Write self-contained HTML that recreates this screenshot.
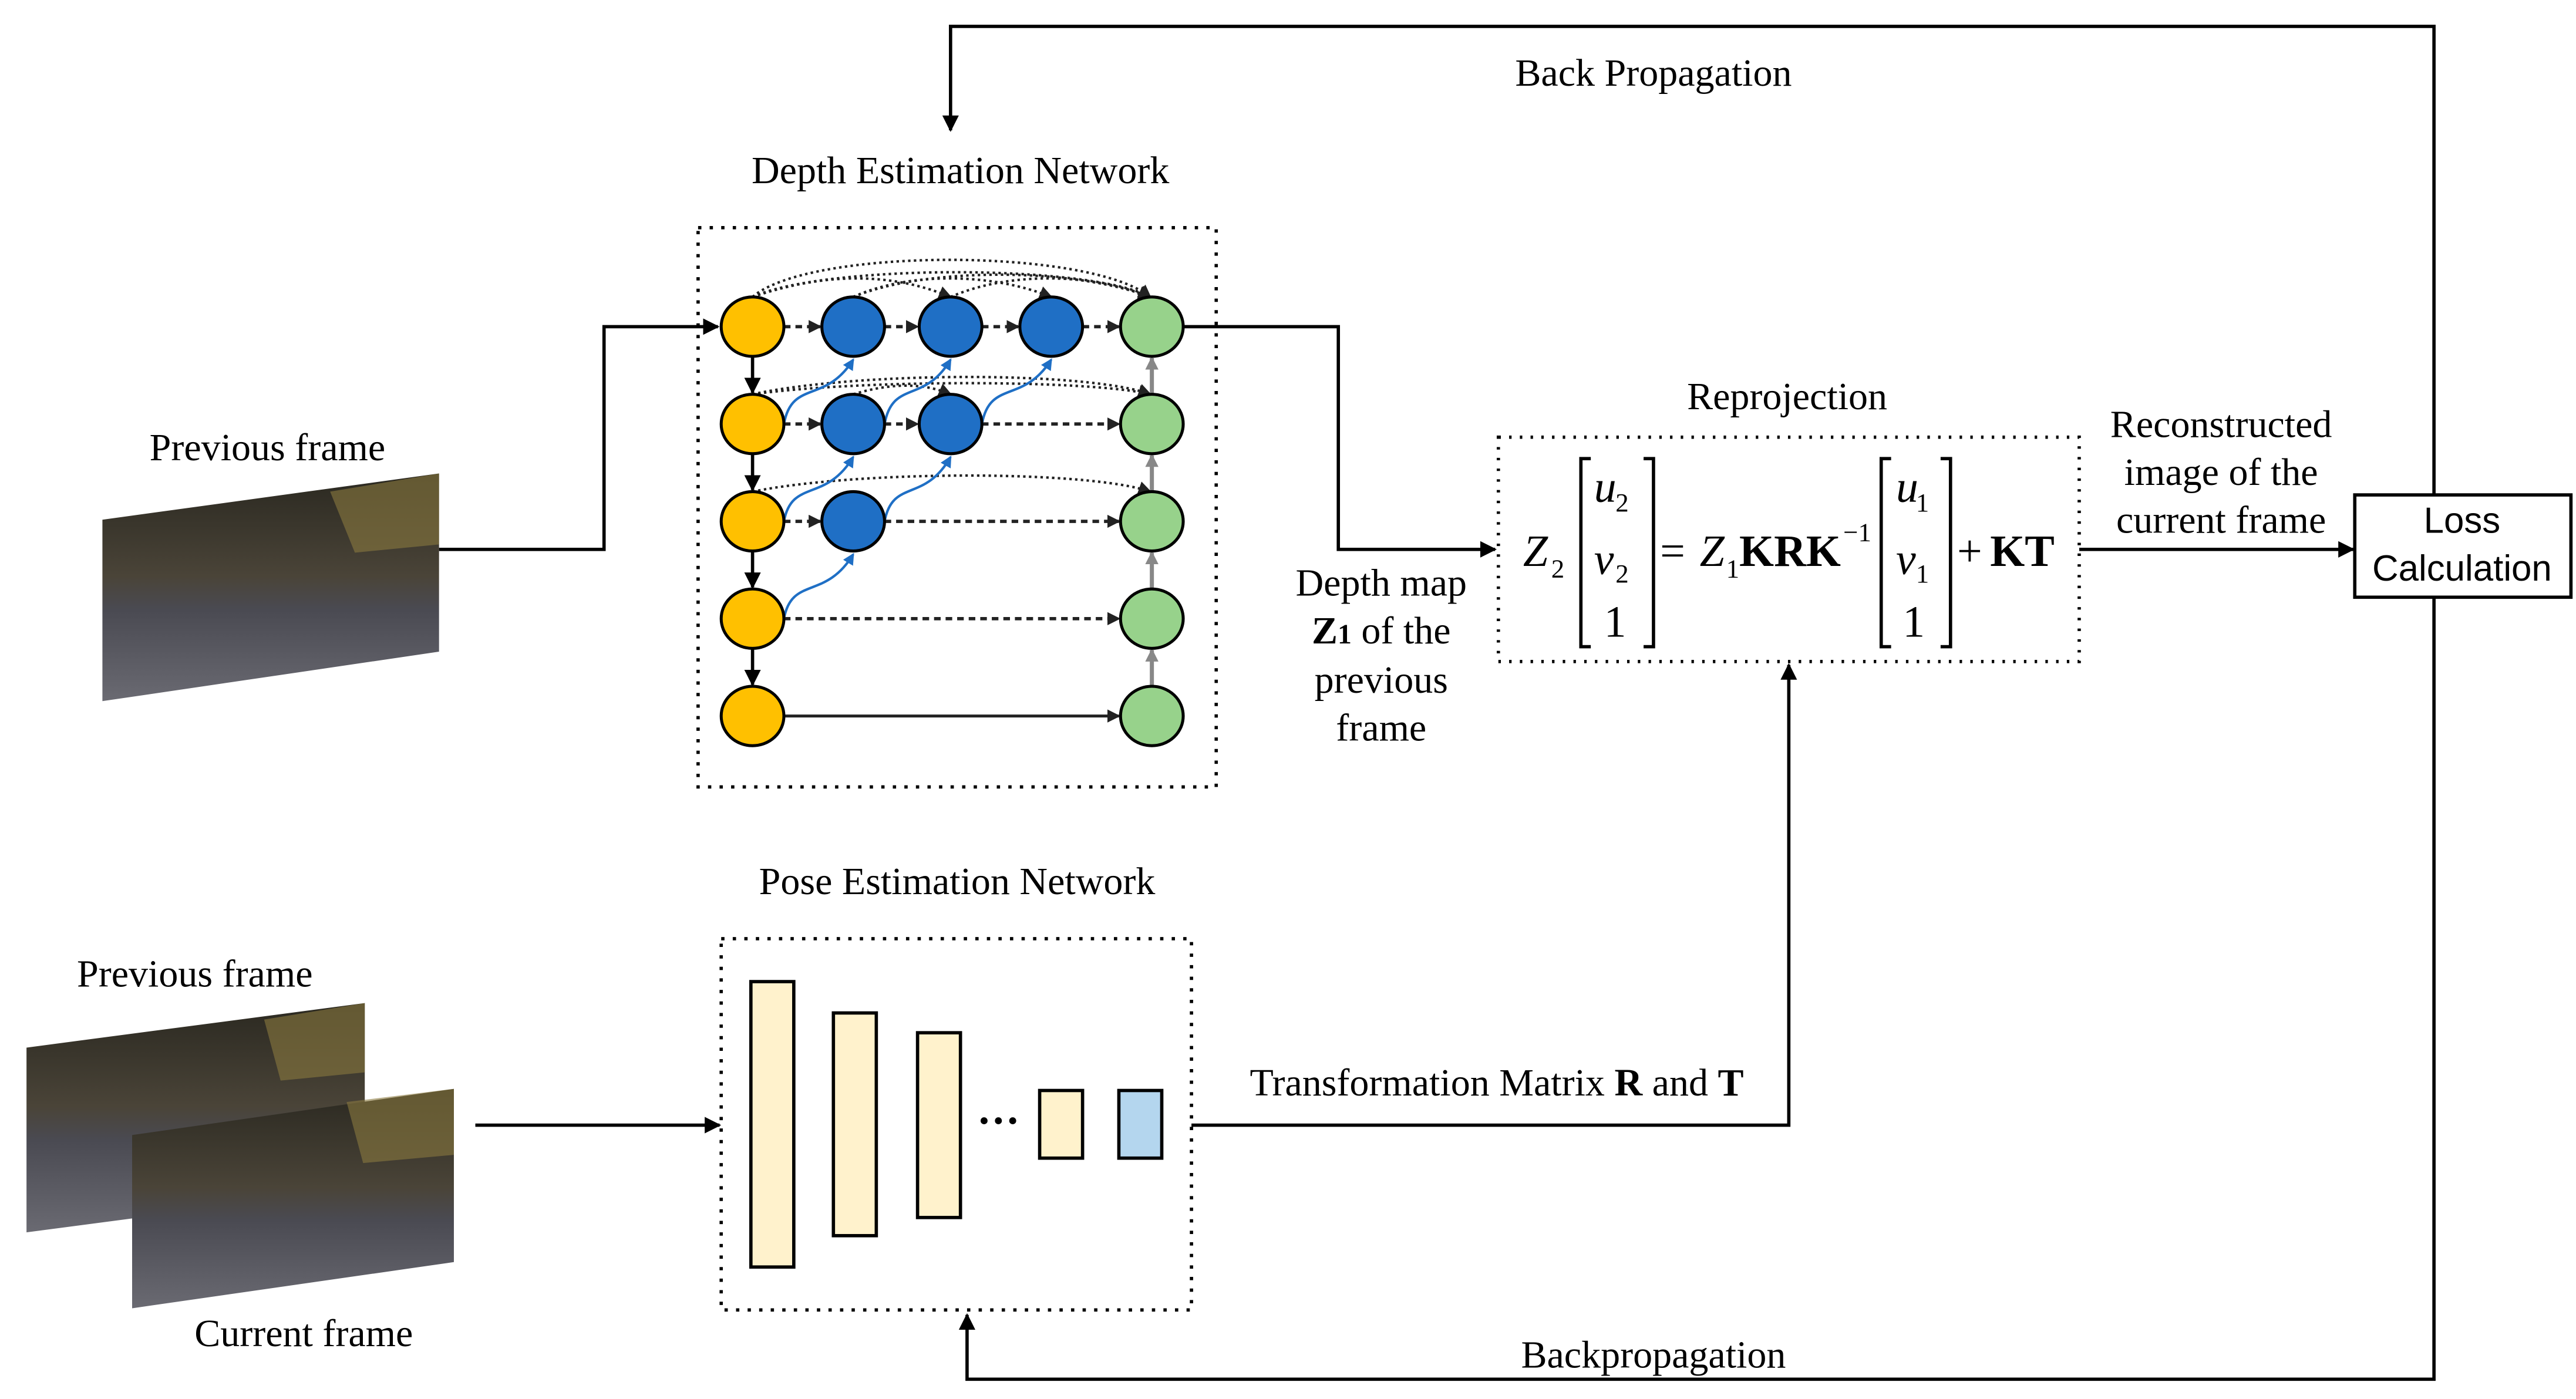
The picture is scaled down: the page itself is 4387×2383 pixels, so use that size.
<!DOCTYPE html>
<html><head><meta charset="utf-8"><style>
html,body{margin:0;padding:0;background:#fff}
svg{display:block}
text{font-family:"Liberation Serif",serif;fill:#000}
</style></head><body>
<svg width="4387" height="2383" viewBox="0 0 1561 848" xmlns="http://www.w3.org/2000/svg">
<defs>
<marker id="ab" markerWidth="10" markerHeight="10" refX="9" refY="5" orient="auto" markerUnits="userSpaceOnUse"><path d="M0,0 L10,5 L0,10 z" fill="#000"/></marker>
<marker id="as" markerWidth="8" markerHeight="8" refX="7" refY="4" orient="auto" markerUnits="userSpaceOnUse"><path d="M0,0 L8,4 L0,8 z" fill="#222"/></marker>
<marker id="ag" markerWidth="8" markerHeight="8" refX="7" refY="4" orient="auto" markerUnits="userSpaceOnUse"><path d="M0,0 L8,4 L0,8 z" fill="#888"/></marker>
<marker id="abl" markerWidth="7" markerHeight="7" refX="6" refY="3.5" orient="auto" markerUnits="userSpaceOnUse"><path d="M0,0 L7,3.5 L0,7 z" fill="#1f6fc5"/></marker>
<linearGradient id="img" x1="0" y1="0" x2="0" y2="1">
<stop offset="0" stop-color="#2a2820"/><stop offset="0.45" stop-color="#4a4438"/><stop offset="0.6" stop-color="#4a4a52"/><stop offset="1" stop-color="#6a6a72"/></linearGradient>
</defs>

<polygon points="62,315 266,287 266,395 62,425" fill="url(#img)"/>
<polygon points="200,298 266,287 266,330 215,335" fill="#8a7a40" opacity="0.6"/>
<polygon points="16,635 221,608 221,720 16,747" fill="url(#img)"/>
<polygon points="160,618 221,608 221,650 170,655" fill="#8a7a40" opacity="0.6"/>
<polygon points="80,688 275,660 275,765 80,793" fill="url(#img)"/>
<polygon points="210,668 275,660 275,700 220,705" fill="#8a7a40" opacity="0.6"/>

<text x="162" y="279" font-size="23.5" text-anchor="middle">Previous frame</text>
<text x="118" y="598" font-size="23.5" text-anchor="middle">Previous frame</text>
<text x="184" y="816" font-size="23.5" text-anchor="middle">Current frame</text>

<text x="582" y="111" font-size="23.5" text-anchor="middle">Depth Estimation Network</text>
<rect x="423" y="138" width="314" height="339" fill="none" stroke="#000" stroke-width="2" stroke-dasharray="2,5"/>

<g fill="none" stroke="#222" stroke-width="1.5" stroke-dasharray="1.5,2" marker-end="url(#as)">
<path d="M456,180 C490,150 660,150 697,180"/>
<path d="M456,180 C500,160 660,160 697,180"/>
<path d="M456,180 C500,165 540,165 576,180"/>
<path d="M517,180 C550,165 600,165 637,180"/>
<path d="M517,180 C560,162 650,162 697,180"/>
<path d="M576,180 C610,165 660,165 697,180"/>
<path d="M456,239 C520,225 660,225 697,239"/>
<path d="M456,239 C520,230 660,230 697,239"/>
<path d="M517,239 C540,232 560,232 576,239"/>
<path d="M456,298 C520,285 660,285 697,298"/>
</g>

<g stroke="#222" stroke-width="2" stroke-dasharray="4,3" marker-end="url(#as)">
<line x1="475" y1="198" x2="497" y2="198"/><line x1="536" y1="198" x2="556" y2="198"/><line x1="595" y1="198" x2="617" y2="198"/><line x1="656" y1="198" x2="678" y2="198"/>
<line x1="475" y1="257" x2="497" y2="257"/><line x1="536" y1="257" x2="556" y2="257"/><line x1="595" y1="257" x2="678" y2="257"/>
<line x1="475" y1="316" x2="497" y2="316"/><line x1="536" y1="316" x2="678" y2="316"/>
<line x1="475" y1="375" x2="678" y2="375"/>
</g>
<line x1="475" y1="434" x2="678" y2="434" stroke="#222" stroke-width="1.8" marker-end="url(#as)"/>

<g stroke="#000" stroke-width="2" marker-end="url(#ab)">
<line x1="456" y1="216" x2="456" y2="238"/><line x1="456" y1="275" x2="456" y2="297"/><line x1="456" y1="334" x2="456" y2="356"/><line x1="456" y1="393" x2="456" y2="415"/>
</g>
<g stroke="#888" stroke-width="2.5" marker-end="url(#ag)">
<line x1="698" y1="239" x2="698" y2="217"/><line x1="698" y1="298" x2="698" y2="276"/><line x1="698" y1="357" x2="698" y2="335"/><line x1="698" y1="416" x2="698" y2="394"/>
</g>
<g fill="none" stroke="#1f6fc5" stroke-width="1.5" marker-end="url(#abl)">
<path d="M475,257 C480,230 500,245 517,218"/>
<path d="M536,257 C541,230 560,245 576,218"/>
<path d="M595,257 C600,230 620,245 637,218"/>
<path d="M475,316 C480,290 500,305 517,277"/>
<path d="M536,316 C541,290 560,305 576,277"/>
<path d="M475,375 C480,349 500,364 517,336"/>
</g>

<g stroke="#000" stroke-width="1.8">
<g fill="#ffc000">
<ellipse cx="456" cy="198" rx="19" ry="18"/><ellipse cx="456" cy="257" rx="19" ry="18"/><ellipse cx="456" cy="316" rx="19" ry="18"/><ellipse cx="456" cy="375" rx="19" ry="18"/><ellipse cx="456" cy="434" rx="19" ry="18"/>
</g>
<g fill="#1f6fc5">
<ellipse cx="517" cy="198" rx="19" ry="18"/><ellipse cx="576" cy="198" rx="19" ry="18"/><ellipse cx="637" cy="198" rx="19" ry="18"/>
<ellipse cx="517" cy="257" rx="19" ry="18"/><ellipse cx="576" cy="257" rx="19" ry="18"/>
<ellipse cx="517" cy="316" rx="19" ry="18"/>
</g>
<g fill="#97d28b">
<ellipse cx="698" cy="198" rx="19" ry="18"/><ellipse cx="698" cy="257" rx="19" ry="18"/><ellipse cx="698" cy="316" rx="19" ry="18"/><ellipse cx="698" cy="375" rx="19" ry="18"/><ellipse cx="698" cy="434" rx="19" ry="18"/>
</g>
</g>

<g fill="none" stroke="#000" stroke-width="2">
<polyline points="266,333 366,333 366,198 435,198" marker-end="url(#ab)"/>
<polyline points="717,198 811,198 811,333 906,333" marker-end="url(#ab)"/>
<line x1="288" y1="682" x2="436" y2="682" marker-end="url(#ab)"/>
<polyline points="722,682 1084,682 1084,403" marker-end="url(#ab)"/>
<line x1="1260" y1="333" x2="1426" y2="333" marker-end="url(#ab)"/>
<polyline points="1475,300 1475,16 576,16 576,79" marker-end="url(#ab)"/>
<polyline points="1475,362 1475,836 586,836 586,797" marker-end="url(#ab)"/>
</g>

<text x="1002" y="52" font-size="23.5" text-anchor="middle">Back Propagation</text>
<text x="1002" y="829" font-size="23.5" text-anchor="middle">Backpropagation</text>

<text x="837" y="361" font-size="23.5" text-anchor="middle">Depth map</text>
<text x="837" y="390" font-size="23.5" text-anchor="middle"><tspan font-weight="bold">Z</tspan><tspan font-size="17" font-weight="bold">1</tspan> of the</text>
<text x="837" y="420" font-size="23.5" text-anchor="middle">previous</text>
<text x="837" y="449" font-size="23.5" text-anchor="middle">frame</text>

<text x="1083" y="248" font-size="23.5" text-anchor="middle">Reprojection</text>
<rect x="908" y="265" width="352" height="136" fill="none" stroke="#000" stroke-width="2" stroke-dasharray="1.5,5"/>
<g font-size="27">
<text x="923" y="343" font-style="italic">Z</text><text x="940" y="350" font-size="16">2</text>
<text x="966" y="304" font-style="italic">u</text><text x="979" y="310" font-size="16">2</text>
<text x="966" y="348" font-style="italic">v</text><text x="979" y="353" font-size="16">2</text>
<text x="972" y="386">1</text>
<text x="1006" y="343">=</text>
<text x="1030" y="343" font-style="italic">Z</text><text x="1046" y="350" font-size="16">1</text>
<text x="1054" y="343" font-weight="bold">KRK</text><text x="1117" y="328" font-size="16">−1</text>
<text x="1149" y="304" font-style="italic">u</text><text x="1161" y="310" font-size="16">1</text>
<text x="1149" y="348" font-style="italic">v</text><text x="1161" y="353" font-size="16">1</text>
<text x="1153" y="386">1</text>
<text x="1186" y="343">+</text><text x="1206" y="343" font-weight="bold">KT</text>
</g>
<g fill="none" stroke="#000" stroke-width="2">
<polyline points="964,278 958,278 958,392 964,392"/><polyline points="996,278 1002,278 1002,392 996,392"/>
<polyline points="1146,278 1140,278 1140,392 1146,392"/><polyline points="1176,278 1182,278 1182,392 1176,392"/>
</g>

<text x="1346" y="265" font-size="23.5" text-anchor="middle">Reconstructed</text>
<text x="1346" y="294" font-size="23.5" text-anchor="middle">image of the</text>
<text x="1346" y="323" font-size="23.5" text-anchor="middle">current frame</text>

<rect x="1427" y="300" width="131" height="62" fill="#fff" stroke="#000" stroke-width="2"/>
<text x="1492" y="323" font-size="22" text-anchor="middle" style="font-family:'Liberation Sans',sans-serif">Loss</text>
<text x="1492" y="352" font-size="22" text-anchor="middle" style="font-family:'Liberation Sans',sans-serif">Calculation</text>

<text x="580" y="542" font-size="23.5" text-anchor="middle">Pose Estimation Network</text>
<rect x="437" y="569" width="285" height="225" fill="none" stroke="#000" stroke-width="2" stroke-dasharray="2,5"/>
<g stroke="#000" stroke-width="2" fill="#fff2cc">
<rect x="455" y="595" width="26" height="173"/>
<rect x="505" y="614" width="26" height="135"/>
<rect x="556" y="626" width="26" height="112"/>
<rect x="630" y="661" width="26" height="41"/>
<rect x="678" y="661" width="26" height="41" fill="#b4d6ee"/>
</g>
<text x="605" y="688" font-size="26" text-anchor="middle" font-weight="bold">···</text>
<text x="907" y="664" font-size="23.5" text-anchor="middle">Transformation Matrix <tspan font-weight="bold">R</tspan> and <tspan font-weight="bold">T</tspan></text>
</svg>
</body></html>
